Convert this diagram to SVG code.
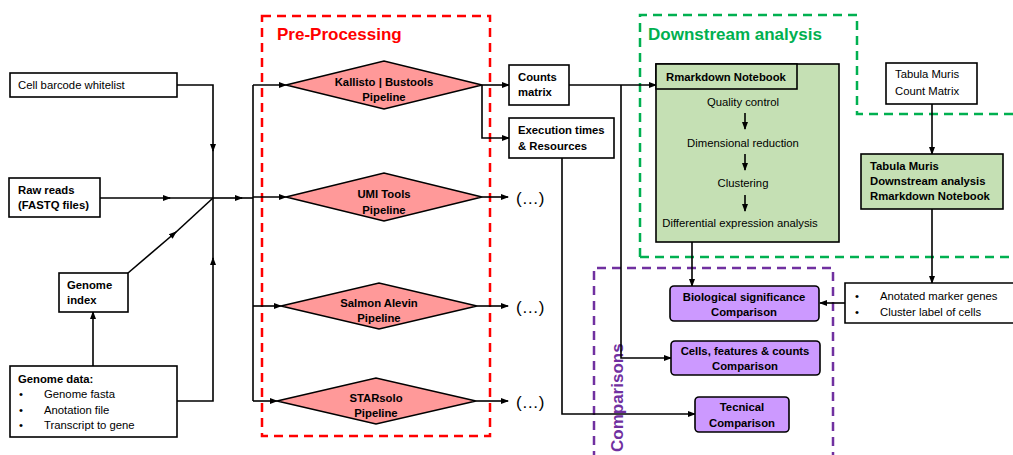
<svg xmlns="http://www.w3.org/2000/svg" width="1013" height="455" viewBox="0 0 1013 455">
<defs>
<marker id="ah" markerWidth="8" markerHeight="8" refX="7" refY="4" orient="auto" markerUnits="userSpaceOnUse">
<path d="M0,1 L8,4 L0,7 Z" fill="#000"/>
</marker>
<style>
.t{font-family:"Liberation Sans",Arial,sans-serif;font-size:11.3px;fill:#000}
.b{font-weight:bold}
.c{text-anchor:middle}
.el{font-size:17px}
.box{fill:#fff;stroke:#000;stroke-width:1.6}
.dia{fill:#FF9999;stroke:#000;stroke-width:1.6}
.grn{fill:#C5E0B4;stroke:#000;stroke-width:1.6}
.pur{fill:#CC99FF;stroke:#000;stroke-width:1.6}
.ln{fill:none;stroke:#000;stroke-width:1.6}
.ar{fill:none;stroke:#000;stroke-width:1.6;marker-end:url(#ah)}
.title{font-family:"Liberation Sans",Arial,sans-serif;font-size:17px;font-weight:bold}
</style>
</defs>
<rect width="1013" height="455" fill="#fff"/>

<!-- group frames -->
<g id="frames">
<rect x="262" y="16" width="228" height="420" fill="none" stroke="#FF0000" stroke-width="2.5" stroke-dasharray="9 6"/>
<text class="title" x="277" y="40" fill="#FF0000">Pre-Processing</text>
<path d="M640,257 V15 H857 V114 H1020 M640,257 H1020" fill="none" stroke="#00B050" stroke-width="2.5" stroke-dasharray="9 6"/>
<text class="title" x="648" y="40" fill="#00B050">Downstream analysis</text>
<path d="M594,460 V268 H833 V460" fill="none" stroke="#7030A0" stroke-width="2.5" stroke-dasharray="9 6"/>
<text class="title" transform="translate(623,452) rotate(-90)" fill="#7030A0">Comparisons</text>
</g>

<!-- connectors -->
<g id="connectors">
<path class="ar" d="M177,85 H213 V151"/>
<path class="ln" d="M213,150 V198"/>
<path class="ar" d="M177,401 H213 V258"/>
<path class="ln" d="M213,259 V198"/>
<path class="ar" d="M100,198 H170"/>
<path class="ln" d="M169,198 H213"/>
<path class="ar" d="M128,273 L176,232"/>
<path class="ln" d="M175,233 L213,198"/>
<path class="ar" d="M213,198 H242"/>
<path class="ln" d="M241,198 H253"/>
<path class="ln" d="M253,85 V401"/>
<path class="ar" d="M253,85 H286"/>
<path class="ar" d="M253,197 H286"/>
<path class="ar" d="M253,306 H281"/>
<path class="ar" d="M253,401 H277"/>
<path class="ar" d="M93,366 V312"/>
<path class="ar" d="M482,85 H509"/>
<path class="ar" d="M482,85 V138 H509"/>
<path class="ar" d="M482,197 H508"/>
<path class="ar" d="M477,306 H508"/>
<path class="ar" d="M476,401 H508"/>
<path class="ar" d="M569,85 H656"/>
<path class="ar" d="M621,85 V358 H671"/>
<path class="ar" d="M562,158 V414 H695"/>
<path class="ar" d="M692,242 V286"/>
<path class="ar" d="M932,104 V154"/>
<path class="ar" d="M932,209 V283"/>
<path class="ar" d="M845,303 H820"/>
</g>

<g id="whitelist">
<rect class="box" x="10" y="73" width="167" height="24"/>
<text class="t" x="18" y="89">Cell barcode whitelist</text>
</g>
<g id="rawreads">
<rect class="box" x="9" y="178" width="91" height="39"/>
<text class="t b" x="18" y="194">Raw reads</text>
<text class="t b" x="18" y="209">(FASTQ files)</text>
</g>
<g id="genomeindex">
<rect class="box" x="59" y="273" width="69" height="39"/>
<text class="t b" x="67" y="289">Genome</text>
<text class="t b" x="67" y="304">index</text>
</g>
<g id="genomedata">
<rect class="box" x="10" y="366" width="167" height="71"/>
<text class="t b" x="18" y="383">Genome data:</text>
<text class="t" x="19" y="398">•</text>
<text class="t" x="44" y="398">Genome fasta</text>
<text class="t" x="19" y="414">•</text>
<text class="t" x="44" y="414">Anotation file</text>
<text class="t" x="19" y="429">•</text>
<text class="t" x="44" y="429">Transcript to gene</text>
</g>

<g id="kallisto">
<polygon class="dia" points="286,85 384,61 482,85 384,109"/>
<text class="t b c" x="384" y="86">Kallisto  |  Bustools</text>
<text class="t b c" x="384" y="101">Pipeline</text>
</g>
<g id="umitools">
<polygon class="dia" points="286,197 384,173 482,197 384,221"/>
<text class="t b c" x="384" y="198">UMI Tools</text>
<text class="t b c" x="384" y="214">Pipeline</text>
</g>
<g id="salmon">
<polygon class="dia" points="281,306 379,283 477,306 379,329"/>
<text class="t b c" x="379" y="307">Salmon  Alevin</text>
<text class="t b c" x="379" y="322">Pipeline</text>
</g>
<g id="starsolo">
<polygon class="dia" points="277,401 376,378 476,401 376,424"/>
<text class="t b c" x="376" y="402">STARsolo</text>
<text class="t b c" x="376" y="417">Pipeline</text>
</g>

<g id="ellipses">
<text class="t el" x="516" y="204">(…)</text>
<text class="t el" x="516" y="313">(…)</text>
<text class="t el" x="516" y="408">(…)</text>
</g>

<g id="counts">
<rect class="box" x="509" y="65" width="60" height="40"/>
<text class="t b" x="518" y="81">Counts</text>
<text class="t b" x="518" y="96">matrix</text>
</g>
<g id="exectimes">
<rect class="box" x="509" y="118" width="105" height="40"/>
<text class="t b" x="518" y="134">Execution times</text>
<text class="t b" x="518" y="150">&amp; Resources</text>
</g>

<g id="rmarkdown">
<rect class="grn" x="656" y="64" width="183" height="178"/>
<rect class="grn" x="656" y="64" width="141" height="25"/>
<text class="t b" x="666" y="81">Rmarkdown  Notebook</text>
<text class="t c" x="743" y="106">Quality control</text>
<text class="t c" x="743" y="147">Dimensional reduction</text>
<text class="t c" x="743" y="187">Clustering</text>
<text class="t c" x="740" y="227">Differential expression analysis</text>
<path class="ar" d="M745,113 V129"/>
<path class="ar" d="M745,154 V170"/>
<path class="ar" d="M745,195 V211"/>
</g>

<g id="tabulacount">
<rect class="box" x="886" y="63" width="91" height="41"/>
<text class="t" x="895" y="78">Tabula  Muris</text>
<text class="t" x="895" y="95">Count Matrix</text>
</g>
<g id="tabuladownstream">
<rect class="grn" x="861" y="154" width="142" height="55"/>
<text class="t b" x="870" y="170">Tabula  Muris</text>
<text class="t b" x="870" y="185">Downstream analysis</text>
<text class="t b" x="870" y="200">Rmarkdown  Notebook</text>
</g>
<g id="markers">
<path class="box" d="M1020,283 H845 V323 H1020"/>
<text class="t" x="855" y="300">•</text>
<text class="t" x="880" y="300">Anotated  marker genes</text>
<text class="t" x="855" y="316">•</text>
<text class="t" x="880" y="316">Cluster label of cells</text>
</g>

<g id="biological">
<rect class="pur" x="670" y="286" width="149" height="35" rx="4"/>
<text class="t b c" x="744" y="301">Biological significance</text>
<text class="t b c" x="744" y="316">Comparison</text>
</g>
<g id="cellsfeatures">
<rect class="pur" x="671" y="341" width="149" height="34" rx="4"/>
<text class="t b c" x="745" y="355">Cells, features &amp; counts</text>
<text class="t b c" x="745" y="370">Comparison</text>
</g>
<g id="tecnical">
<rect class="pur" x="695" y="397" width="94" height="35" rx="4"/>
<text class="t b c" x="742" y="411">Tecnical</text>
<text class="t b c" x="742" y="427">Comparison</text>
</g>
</svg>
